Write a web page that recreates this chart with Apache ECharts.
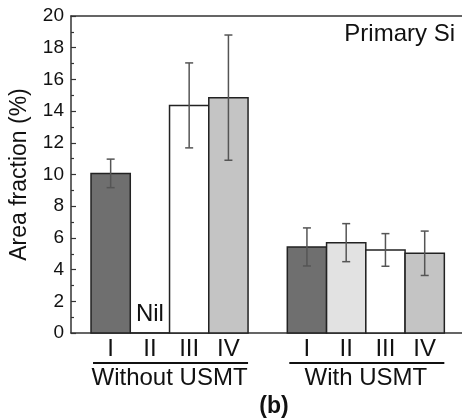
<!DOCTYPE html>
<html>
<head>
<meta charset="utf-8">
<script src="https://cdn.jsdelivr.net/npm/echarts@6/dist/echarts.min.js"></script>
<style>html,body{margin:0;padding:0;background:#fff;}#c{width:462px;height:420px;}</style>
</head>
<body>
<div id="c"></div>
<script>
// ---- data ----
const conditions = ['I', 'II', 'III', 'IV'];
const groups = ['Without USMT', 'With USMT'];
const withoutUSMT = [10.07, 0, 14.36, 14.85];
const withoutErr = [0.9, 0, 2.68, 3.95];
const withoutNotes = ['', 'Nil', '', ''];
const withUSMT = [5.43, 5.7, 5.24, 5.03];
const withErr = [1.2, 1.2, 1.03, 1.4];
const withNotes = ['', '', '', ''];
const yMin = 0, yMax = 20, yStep = 2;
const annotation = 'Primary Si';
const panelLabel = '(b)';

// ---- styles ----
const FONT = '"Liberation Sans", Arial, sans-serif';
const fills = ['#6f6f6f', '#e2e2e2', '#ffffff', '#c4c4c4'];

const values = [withoutUSMT, withUSMT];
const errors = [withoutErr, withErr];
const notes = [withoutNotes, withNotes];
const rows = [];
groups.forEach((g, gi) => {
  conditions.forEach((c, ci) => {
    rows.push({ x: gi * (conditions.length + 1) + ci, v: values[gi][ci], e: errors[gi][ci], ci: ci, label: c, note: notes[gi][ci] });
  });
});
const groupRows = groups.map((g, gi) => [gi * (conditions.length + 1), gi * (conditions.length + 1) + conditions.length - 1, gi]);

const axisLineStyle = { show: true, onZero: false, lineStyle: { color: '#333', width: 1.5 } };

const chart = echarts.init(document.getElementById('c'), null, { renderer: 'canvas' });
chart.setOption({
  animation: false,
  backgroundColor: '#fff',
  grid: { left: 70, right: 0, top: 16, bottom: 87 },
  xAxis: [{
    type: 'value', min: -1.01, max: 8.95, position: 'bottom',
    axisLine: axisLineStyle,
    axisTick: { show: false }, axisLabel: { show: false }, splitLine: { show: false }
  }, {
    type: 'value', min: -1.01, max: 8.95, position: 'top',
    axisLine: axisLineStyle,
    axisTick: { show: false }, axisLabel: { show: false }, splitLine: { show: false }
  }],
  yAxis: {
    type: 'value', min: yMin, max: yMax, interval: yStep,
    name: 'Area fraction (%)', nameLocation: 'middle', nameGap: 40,
    nameTextStyle: { fontSize: 23, fontFamily: FONT, color: '#111' },
    axisLine: axisLineStyle,
    axisTick: { show: true, inside: true, length: 5, lineStyle: { color: '#333', width: 1.2 } },
    minorTick: { show: true, splitNumber: 2, length: 3, lineStyle: { color: '#333', width: 1.2 } },
    axisLabel: { fontSize: 19, fontFamily: FONT, color: '#111', margin: 7 },
    splitLine: { show: false }
  },
  series: [{
    type: 'custom',
    data: rows.map(r => [r.x, r.v, r.e]),
    encode: { x: 0, y: 1 },
    clip: false,
    renderItem: function (params, api) {
      const r = rows[params.dataIndex];
      const p0 = api.coord([r.x - 0.5, 0]);
      const p1 = api.coord([r.x + 0.5, r.v]);
      const cx = api.coord([r.x, 0])[0];
      const children = [{
        type: 'rect',
        shape: { x: p0[0], y: p1[1], width: p1[0] - p0[0], height: p0[1] - p1[1] },
        style: { fill: fills[r.ci], stroke: '#222', lineWidth: 1.5 }
      }];
      if (r.e > 0) {
        const top = api.coord([r.x, r.v + r.e])[1];
        const bot = api.coord([r.x, r.v - r.e])[1];
        const es = { stroke: '#555', lineWidth: 1.5 };
        children.push({ type: 'line', shape: { x1: cx, y1: top, x2: cx, y2: bot }, style: es });
        children.push({ type: 'line', shape: { x1: cx - 4, y1: top, x2: cx + 4, y2: top }, style: es });
        children.push({ type: 'line', shape: { x1: cx - 4, y1: bot, x2: cx + 4, y2: bot }, style: es });
      }
      children.push({
        type: 'text',
        style: { text: r.label, x: cx, y: p0[1] + 16, align: 'center', verticalAlign: 'middle', fontSize: 24, fontFamily: FONT, fill: '#111' }
      });
      if (r.note) {
        children.push({
          type: 'text',
          style: { text: r.note, x: cx, y: p0[1] - 19, align: 'center', verticalAlign: 'middle', fontSize: 24, fontFamily: FONT, fill: '#111' }
        });
      }
      return { type: 'group', children: children };
    }
  }, {
    type: 'custom',
    data: groupRows,
    encode: { x: [0, 1] },
    clip: false,
    renderItem: function (params, api) {
      const a = api.value(0), b = api.value(1);
      const l = api.coord([a - 0.5, 0]);
      const rr = api.coord([b + 0.5, 0]);
      const y = l[1] + 30;
      return {
        type: 'group',
        children: [{
          type: 'line', shape: { x1: l[0] + 2, y1: y, x2: rr[0], y2: y },
          style: { stroke: '#111', lineWidth: 2 }
        }, {
          type: 'text',
          style: { text: groups[api.value(2)], x: (l[0] + rr[0]) / 2, y: l[1] + 45, align: 'center', verticalAlign: 'middle', fontSize: 24, fontFamily: FONT, fill: '#111' }
        }]
      };
    }
  }],
  graphic: [{
    type: 'text', x: 455, y: 34,
    style: { text: annotation, align: 'right', verticalAlign: 'middle', fontSize: 24, fontFamily: FONT, fill: '#111' }
  }, {
    type: 'text', x: 274, y: 407,
    style: { text: panelLabel, align: 'center', verticalAlign: 'middle', fontSize: 23, fontWeight: 'bold', fontFamily: FONT, fill: '#111' }
  }]
});
</script>
</body>
</html>
